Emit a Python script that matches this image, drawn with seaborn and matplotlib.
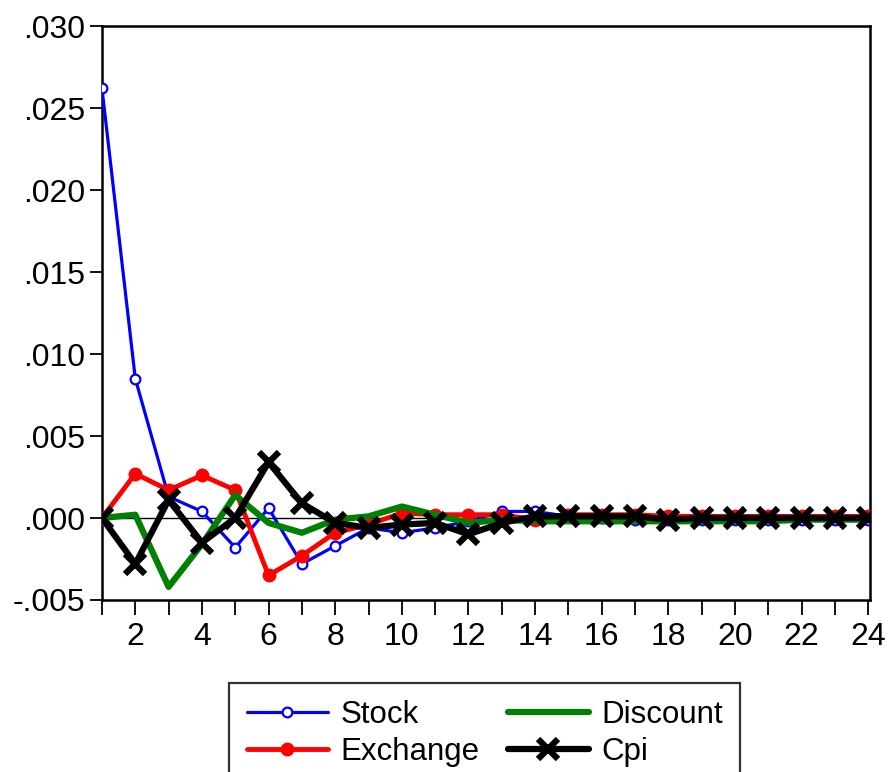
import numpy as np
import pandas as pd
import matplotlib
matplotlib.use("Agg")
import matplotlib.pyplot as plt
import seaborn as sns
from matplotlib.ticker import FixedLocator, FuncFormatter

# Impulse responses over 24 periods
periods = list(range(1, 25))
stock = [0.0262, 0.0085, 0.0013, 0.0004, -0.0018, 0.0006, -0.0028, -0.0017,
         -0.0006, -0.0009, -0.0006, -0.0002, 0.0004, 0.0004, 0.0001, 0.0000,
         -0.0001, -0.0001, -0.0001, -0.0001, -0.0001, -0.0001, -0.0001, -0.0001]
exchange = [0.0000, 0.0027, 0.0017, 0.0026, 0.0017, -0.0035, -0.0023, -0.0009,
            -0.0004, 0.0003, 0.0002, 0.0002, 0.0002, -0.0001, 0.0002, 0.0002,
            0.0002, 0.0001, 0.0001, 0.0001, 0.0001, 0.0001, 0.0001, 0.0001]
discount = [0.0000, 0.0002, -0.0042, -0.0016, 0.0014, -0.0003, -0.0009, -0.0001,
            0.0001, 0.0007, 0.0002, -0.0003, -0.0001, -0.0002, -0.0002, -0.0002,
            -0.0002, -0.0002, -0.0002, -0.0002, -0.0002, -0.0001, -0.0001, -0.0001]
cpi = [0.0000, -0.0028, 0.0011, -0.0015, 0.0000, 0.0034, 0.0009, -0.0003,
       -0.0006, -0.0004, -0.0003, -0.0010, -0.0003, 0.0001, 0.0001, 0.0001,
       0.0001, -0.0001, 0.0000, 0.0000, 0.0000, 0.0000, 0.0000, 0.0000]

y_ticks = [-0.005, 0.000, 0.005, 0.010, 0.015, 0.020, 0.025, 0.030]

df = pd.DataFrame({"period": periods, "Stock": stock, "Exchange": exchange,
                   "Discount": discount, "Cpi": cpi})

sns.set_style("white")
plt.rcParams["font.family"] = ["Liberation Sans", "DejaVu Sans"]

fig = plt.figure(figsize=(8.89, 7.72), dpi=100)
ax = fig.add_axes([0.1147, 0.2228, 0.8639, 0.7435])

ax.axhline(0, color="black", lw=1.0, zorder=1)

sns.lineplot(data=df, x="period", y="Stock", ax=ax, color="#0000FF", lw=2.3,
             marker="o", markersize=7, markerfacecolor="white",
             markeredgecolor="#0000FF", markeredgewidth=1.6, label="Stock", zorder=3)
sns.lineplot(data=df, x="period", y="Exchange", ax=ax, color="#FF0000", lw=3.5,
             marker="o", markersize=10, markerfacecolor="#FF0000",
             markeredgecolor="#FF0000", markeredgewidth=0, label="Exchange", zorder=4)
sns.lineplot(data=df, x="period", y="Discount", ax=ax, color="#008000", lw=4.5,
             marker=None, label="Discount", zorder=5)
sns.lineplot(data=df, x="period", y="Cpi", ax=ax, color="black", lw=4.5,
             marker="x", markersize=15, markeredgewidth=4.5,
             markeredgecolor="black", markerfacecolor="black",
             label="Cpi", zorder=6)

ax.set_xlim(1, 24.05)
ax.set_ylim(-0.005, 0.030)
ax.xaxis.set_major_locator(FixedLocator(periods))
ax.xaxis.set_major_formatter(FuncFormatter(lambda v, p: f"{int(round(v))}" if int(round(v)) % 2 == 0 else ""))
ax.yaxis.set_major_locator(FixedLocator(y_ticks))
ax.yaxis.set_major_formatter(FuncFormatter(lambda v, p: ("-" if v < -1e-12 else "") + f"{abs(v):.3f}".lstrip("0")))

ax.set_xlabel("")
ax.set_ylabel("")
for s in ax.spines.values():
    s.set_visible(True)
    s.set_color("black")
    s.set_linewidth(1.8)

ax.tick_params(axis="x", which="major", direction="out", length=11, width=1.3,
               labelsize=23, pad=5, color="black", labelcolor="black", bottom=True)
ax.tick_params(axis="y", which="major", direction="out", length=9, width=1.3,
               labelsize=23, pad=3, color="black", labelcolor="black", left=True)
ax.grid(False)

leg = ax.legend(loc="upper center", bbox_to_anchor=(0.4985, -0.1445), ncol=2,
                fontsize=22.5, frameon=True, fancybox=False, edgecolor="black",
                handlelength=2.6, handletextpad=0.4, columnspacing=0.9,
                labelspacing=0.22, borderpad=0.55, borderaxespad=0)
leg.get_frame().set_linewidth(1.6)
for t in leg.get_texts():
    t.set_color("black")

fig.savefig("out.png", dpi=100, facecolor="white")
